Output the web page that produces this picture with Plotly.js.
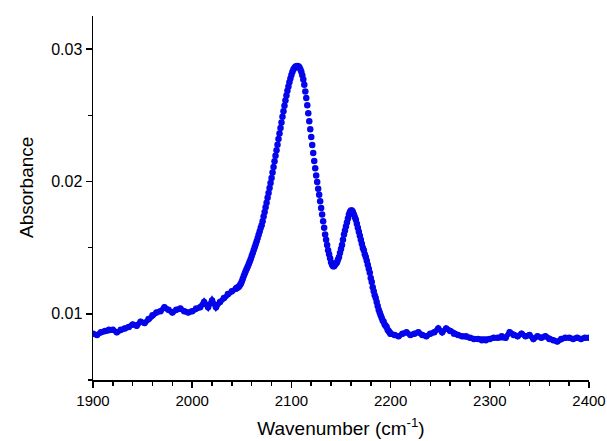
<!DOCTYPE html>
<html>
<head>
<meta charset="utf-8">
<script src="https://cdn.plot.ly/plotly-3.0.1.min.js"></script>
<style>html,body{margin:0;padding:0;background:#fff;}#chart{width:607px;height:441px;}</style>
</head>
<body>
<div id="chart"></div>
<script>
// Left baseline region (every 4 cm-1)
const wnLeft = [1900,1904,1908,1912,1916,1920,1924,1928,1932,1936,1940,1944,1948,1952,1956,1960,1964,1968,1972,1976,1980,1984,1988,1992,1996,2000,2004,2008,2012,2016,2020,2024,2028,2032,2036,2040,2044];
const absLeft = [0.0085,0.0084,0.0086,0.0087,0.0088,0.0088,0.0086,0.0088,0.0089,0.0090,0.0092,0.0091,0.0094,0.0093,0.0096,0.0099,0.0101,0.0102,0.0105,0.0103,0.0101,0.0103,0.0104,0.0102,0.0101,0.0102,0.0104,0.0105,0.0109,0.0105,0.0110,0.0105,0.0109,0.0112,0.0115,0.0117,0.0119];

// Band region (every 1 cm-1)
const wnBand = [2045,2046,2047,2048,2049,2050,2051,2052,2053,2054,2055,2056,2057,2058,2059,2060,2061,2062,2063,2064,2065,2066,2067,2068,2069,2070,2071,2072,2073,2074,2075,2076,2077,2078,2079,2080,2081,2082,2083,2084,2085,2086,2087,2088,2089,2090,2091,2092,2093,2094,2095,2096,2097,2098,2099,2100,2101,2102,2103,2104,2105,2106,2107,2108,2109,2110,2111,2112,2113,2114,2115,2116,2117,2118,2119,2120,2121,2122,2123,2124,2125,2126,2127,2128,2129,2130,2131,2132,2133,2134,2135,2136,2137,2138,2139,2140,2141,2142,2143,2144,2145,2146,2147,2148,2149,2150,2151,2152,2153,2154,2155,2156,2157,2158,2159,2160,2161,2162,2163,2164,2165,2166,2167,2168,2169,2170,2171,2172,2173,2174,2175,2176,2177,2178,2179,2180,2181,2182,2183,2184,2185,2186,2187,2188,2189,2190,2191,2192,2193,2194,2195,2196,2197,2198,2199,2200];
const absBand = [0.01195,0.01200,0.01205,0.01215,0.01228,0.01245,0.01265,0.01285,0.01305,0.01323,0.01340,0.01358,0.01376,0.01395,0.01415,0.01436,0.01458,0.01480,0.01502,0.01525,0.01548,0.01572,0.01597,0.01622,0.01648,0.01670,0.01700,0.01735,0.01770,0.01805,0.01840,0.01876,0.01913,0.01950,0.01988,0.02026,0.02068,0.02110,0.02152,0.02194,0.02236,0.02278,0.02320,0.02362,0.02404,0.02446,0.02488,0.02530,0.02572,0.02612,0.02650,0.02686,0.02718,0.02750,0.02778,0.02804,0.02826,0.02845,0.02858,0.02866,0.02870,0.02872,0.02870,0.02862,0.02848,0.02828,0.02802,0.02770,0.02730,0.02680,0.02630,0.02575,0.02515,0.02455,0.02395,0.02335,0.02275,0.02215,0.02155,0.02100,0.02045,0.01995,0.01945,0.01900,0.01850,0.01800,0.01750,0.01700,0.01650,0.01600,0.01560,0.01520,0.01480,0.01450,0.01420,0.01390,0.01370,0.01360,0.01360,0.01370,0.01380,0.01390,0.01410,0.01430,0.01460,0.01490,0.01520,0.01560,0.01600,0.01630,0.01660,0.01690,0.01720,0.01750,0.01770,0.01780,0.01780,0.01770,0.01750,0.01730,0.01710,0.01680,0.01650,0.01620,0.01590,0.01560,0.01530,0.01500,0.01480,0.01450,0.01430,0.01400,0.01370,0.01340,0.01310,0.01270,0.01240,0.01200,0.01170,0.01140,0.01120,0.01090,0.01060,0.01030,0.01010,0.00990,0.00970,0.00950,0.00940,0.00920,0.00910,0.00900,0.00880,0.00870,0.00860,0.00850];

// Right baseline region (every 4 cm-1)
const wnRight = [2204,2208,2212,2216,2220,2224,2228,2232,2236,2240,2244,2248,2252,2256,2260,2264,2268,2272,2276,2280,2284,2288,2292,2296,2300,2304,2308,2312,2316,2320,2324,2328,2332,2336,2340,2344,2348,2352,2356,2360,2364,2368,2372,2376,2380,2384,2388,2392,2396,2400];
const absRight = [0.0084,0.0083,0.0085,0.0086,0.0084,0.0085,0.0086,0.0084,0.0083,0.0085,0.0086,0.0089,0.0086,0.0089,0.0087,0.0085,0.0084,0.0083,0.0083,0.0082,0.0081,0.0081,0.0080,0.0080,0.0081,0.0082,0.0082,0.0083,0.0082,0.0086,0.0084,0.0083,0.0085,0.0083,0.0084,0.0081,0.0083,0.0082,0.0083,0.0081,0.0080,0.0079,0.0081,0.0082,0.0082,0.0081,0.0082,0.0081,0.0082,0.0082];

const xTickVals = [1900,2000,2100,2200,2300,2400];
const yTickVals = [0.01,0.02,0.03];
const yTickText = ['0.01','0.02','0.03'];

const blue = 'rgb(5,5,235)';
function baseTrace(x, y) {
  return {x: x, y: y, type: 'scatter', mode: 'lines+markers',
    line: {color: blue, width: 5.5, shape: 'linear'},
    marker: {color: blue, size: 6.5, line: {width: 0}},
    hoverinfo: 'x+y', showlegend: false};
}
const traces = [
  baseTrace(wnLeft.concat([wnBand[0]]), absLeft.concat([absBand[0]])),
  {x: wnBand, y: absBand, type: 'scatter', mode: 'markers',
   marker: {color: blue, size: 6.5, line: {width: 0}}, hoverinfo: 'x+y', showlegend: false},
  baseTrace([wnBand[wnBand.length - 1]].concat(wnRight), [absBand[absBand.length - 1]].concat(absRight))
];

const fontFam = 'Arial, "Liberation Sans", sans-serif';
const layout = {
  width: 607, height: 441,
  margin: {l: 93, r: 18, t: 16, b: 61, pad: 0},
  paper_bgcolor: '#fff', plot_bgcolor: '#fff',
  font: {family: fontFam, color: '#000', size: 15},
  xaxis: {
    range: [1900, 2400], autorange: false,
    tickmode: 'array', tickvals: xTickVals, ticktext: xTickVals.map(String),
    ticks: 'outside', ticklen: 6, tickwidth: 1.5, tickcolor: '#000',
    showline: true, linecolor: '#000', linewidth: 1.5,
    showgrid: false, zeroline: false, mirror: false,
    tickfont: {family: fontFam, size: 15, color: '#000'},
    minor: {dtick: 20, tick0: 1900, ticks: 'outside', ticklen: 4, tickwidth: 1.5, tickcolor: '#000', showgrid: false},
    title: {text: 'Wavenumber (cm<sup>-1</sup>)', font: {family: fontFam, size: 19, color: '#000'}, standoff: 14},
    automargin: false
  },
  yaxis: {
    range: [0.005, 0.0325], autorange: false,
    tickmode: 'array', tickvals: yTickVals, ticktext: yTickText,
    ticks: 'outside', ticklen: 6, tickwidth: 1.5, tickcolor: '#000',
    showline: true, linecolor: '#000', linewidth: 1.5,
    showgrid: false, zeroline: false, mirror: false,
    tickfont: {family: fontFam, size: 16, color: '#000'},
    minor: {dtick: 0.005, tick0: 0, ticks: 'outside', ticklen: 4, tickwidth: 1.5, tickcolor: '#000', showgrid: false},
    automargin: false
  },
  annotations: [{
    text: 'Absorbance', xref: 'paper', yref: 'paper',
    x: -0.133, y: 0.5275, xanchor: 'center', yanchor: 'middle',
    textangle: -90, showarrow: false,
    font: {family: fontFam, size: 19, color: '#000'}
  }]
};

Plotly.newPlot('chart', traces, layout, {staticPlot: true, displayModeBar: false});
</script>
</body>
</html>
